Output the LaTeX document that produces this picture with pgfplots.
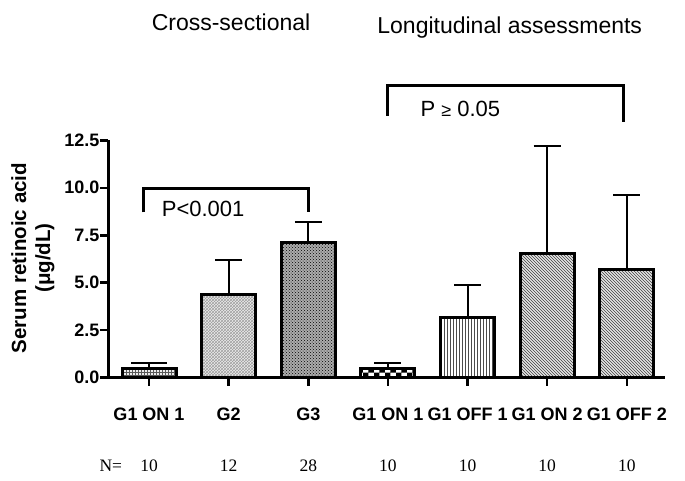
\documentclass[border=0pt]{standalone}
\usepackage{fontspec}
\setmainfont{Liberation Sans}
\newfontfamily\timesfont{Liberation Serif}
\usepackage{pgfplots}
\pgfplotsset{compat=1.18}
\usetikzlibrary{patterns}

\pgfplotsset{
  mybar/.style={ybar, bar width=54pt, draw=black, line width=3pt,
    error bars/y dir=plus, error bars/y explicit,
    error bars/error mark=|,
    error bars/error bar style={line width=2pt, black},
    error bars/error mark options={line width=2pt, black, mark size=13.5pt}},
}

\begin{document}
\begin{tikzpicture}[x=1pt,y=1pt]
\begin{axis}[
  at={(108pt,102.3pt)}, anchor=south west,
  scale only axis, width=557pt, height=237.4pt,
  xmin=-0.515, xmax=6.48, ymin=0, ymax=12.5,
  axis x line*=bottom, axis y line*=left,
  axis line style={line width=3pt, black},
  clip=false,
  xtick={0,...,6},
  xticklabels={G1 ON 1, G2, G3, G1 ON 1, G1 OFF 1, G1 ON 2, G1 OFF 2},
  ytick={0,2.5,5,7.5,10,12.5},
  tick align=outside, major tick length=8pt,
  tick style={line width=2.5pt, black},
  ticklabel style={font=\bfseries\fontsize{18}{21}\selectfont},
  xticklabel style={yshift=-19pt},
  yticklabel style={inner sep=0.5pt,
    /pgf/number format/fixed, /pgf/number format/fixed zerofill,
    /pgf/number format/precision=1, /pgf/number format/assume math mode=true},
  ylabel={Serum retinoic acid\\(μg/dL)},
  ylabel style={at={(axis description cs:-0.135,0.504)}, anchor=center,
    align=center, font=\bfseries\fontsize{20.5}{24}\selectfont},
]
% cross-sectional
\addplot[mybar, fill=gray!15, postaction={pattern=grid, pattern color=gray!70!black},
  error bars/error mark options={line width=2pt, black, mark size=18pt}]
  coordinates {(0,0.5) +- (0,0.26)};
\addplot[mybar, fill=gray!15, postaction={pattern=crosshatch, pattern color=gray!75}]
  coordinates {(1,4.36) +- (0,1.84)};
\addplot[mybar, fill=gray!65, postaction={pattern=crosshatch dots, pattern color=black}]
  coordinates {(2,7.14) +- (0,1.06)};
% longitudinal
\addplot[mybar, fill=white, postaction={pattern=checkerboard, pattern color=black}]
  coordinates {(3,0.5) +- (0,0.26)};
\addplot[mybar, fill=white, postaction={pattern=vertical lines, pattern color=gray!60!black}]
  coordinates {(4,3.16) +- (0,1.71)};
\addplot[mybar, fill=gray!20, postaction={pattern=north west lines, pattern color=gray!50!black}]
  coordinates {(5,6.56) +- (0,5.62)};
\addplot[mybar, fill=gray!20, postaction={pattern=north west lines, pattern color=gray!50!black}]
  coordinates {(6,5.68) +- (0,3.94)};
% brackets
\addplot[line width=3pt, black, line join=miter] coordinates {(-0.07,8.7) (-0.07,9.95) (2,9.95) (2,8.7)};
\addplot[line width=3pt, black, line join=miter] coordinates {(3,13.8) (3,15.4) (5.96,15.4) (5.96,13.45)};
\node[font=\fontsize{22}{26}\selectfont] at (axis cs:0.68,8.9) {P<0.001};
\node[font=\fontsize{22}{26}\selectfont] at (axis cs:3.91,14.17) {P {\fontsize{18}{20}\selectfont ≥} 0.05};
% titles
\node[anchor=base, font=\fontsize{23}{27}\selectfont] at (axis cs:1.03,18.3) {Cross-sectional};
\node[anchor=base, font=\fontsize{23}{27}\selectfont] at (axis cs:4.53,18.1) {Longitudinal assessments};
% N row
\node[anchor=base, font=\timesfont\fontsize{17.5}{20}\selectfont] at (axis cs:-0.48,-4.93) {N=};
\node[anchor=base, font=\timesfont\fontsize{17.5}{20}\selectfont] at (axis cs:0,-4.93) {10};
\node[anchor=base, font=\timesfont\fontsize{17.5}{20}\selectfont] at (axis cs:1,-4.93) {12};
\node[anchor=base, font=\timesfont\fontsize{17.5}{20}\selectfont] at (axis cs:2,-4.93) {28};
\node[anchor=base, font=\timesfont\fontsize{17.5}{20}\selectfont] at (axis cs:3,-4.93) {10};
\node[anchor=base, font=\timesfont\fontsize{17.5}{20}\selectfont] at (axis cs:4,-4.93) {10};
\node[anchor=base, font=\timesfont\fontsize{17.5}{20}\selectfont] at (axis cs:5,-4.93) {10};
\node[anchor=base, font=\timesfont\fontsize{17.5}{20}\selectfont] at (axis cs:6,-4.93) {10};
\end{axis}
\pgfresetboundingbox
\useasboundingbox (0,0) rectangle (685,480);
\end{tikzpicture}
\end{document}
